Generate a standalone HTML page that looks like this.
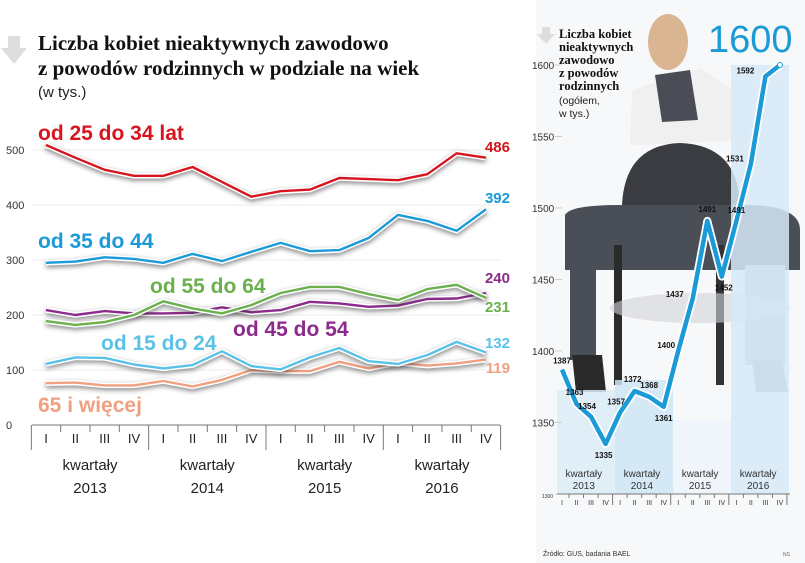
<!DOCTYPE html>
<html><head><meta charset="utf-8">
<style>
html,body{margin:0;padding:0;background:#fff;}
svg{display:block;font-family:"Liberation Sans",sans-serif;}
.t{font-family:"Liberation Serif",serif;font-weight:bold;font-size:21px;fill:#111;}
</style></head>
<body>
<svg id="chart" width="805" height="563" viewBox="0 0 805 563">
<defs>
<filter id="sh" x="-10%" y="-50%" width="120%" height="200%"><feGaussianBlur stdDeviation="2.5"/></filter>
</defs>
<g id="photo">
<rect x="536" y="0" width="269" height="563" fill="#f7f8f9"/>
<ellipse cx="668" cy="42" rx="20" ry="28" fill="#d9b592"/>
<path d="M632 90 L700 68 L742 95 L748 140 L630 145 Z" fill="#f0f0f0"/>
<path d="M655 75 L690 70 L698 120 L662 122 Z" fill="#4a4d55"/>
<path d="M622 205 Q625 145 680 143 Q738 145 740 205 Z" fill="#3a3c42"/>
<path d="M565 215 Q570 205 620 205 L745 205 Q800 205 800 230 L800 270 L565 270 Z" fill="#4a4e57"/>
<rect x="570" y="265" width="26" height="95" fill="#4a4e57"/>
<rect x="745" y="265" width="40" height="100" fill="#b3bac3"/>
<rect x="614" y="245" width="8" height="140" fill="#2a2a2a"/>
<rect x="716" y="245" width="8" height="140" fill="#333"/>
<path d="M572 355 L602 355 L606 392 L576 392 Z" fill="#2a2a2a"/>
<path d="M752 360 L782 360 L788 392 L756 392 Z" fill="#97a0aa"/>
<ellipse cx="700" cy="308" rx="90" ry="15" fill="#d2d4d7" opacity="0.6"/>
</g>
<g id="right"></g>
<g id="left"></g>
<g>
<path d="M8 36 L20 36 L20 48 L27 48 L14 64 L1 48 L8 48 Z" fill="#ddd"/>
<text class="t" x="38" y="50">Liczba kobiet nieaktywnych zawodowo</text>
<text class="t" x="38" y="75">z powodów rodzinnych w podziale na wiek</text>
<text x="38" y="97" font-size="15" fill="#222">(w tys.)</text>
</g>
<g>
<path d="M542 27 L550 27 L550 34 L555 34 L546 44 L537 34 L542 34 Z" fill="#ddd"/>
<text font-family="Liberation Serif,serif" font-weight="bold" font-size="12.5" fill="#111">
<tspan x="559" y="38">Liczba kobiet</tspan><tspan x="559" y="51">nieaktywnych</tspan><tspan x="559" y="64">zawodowo</tspan><tspan x="559" y="77">z powodów</tspan><tspan x="559" y="90">rodzinnych</tspan></text>
<text font-size="10.5" fill="#222"><tspan x="559" y="104">(ogółem,</tspan><tspan x="559" y="117">w tys.)</tspan></text>
<text x="708" y="52" font-size="38" fill="#1a9ad6">1600</text>
<text x="543" y="556" font-size="7" fill="#333">Źródło: GUS, badania BAEL</text>
<text x="783" y="556" font-size="5" fill="#666">NS</text>
</g>
</svg>
<script>
const NS='http://www.w3.org/2000/svg';
const quarters=['I','II','III','IV','I','II','III','IV','I','II','III','IV','I','II','III','IV'];
const years=['2013','2014','2015','2016'];
const s25=[509,486,464,453,453,469,442,415,425,428,449,447,445,456,494,486];
const s35=[295,297,305,302,295,311,298,315,331,316,318,340,382,371,353,392];
const s55=[189,182,187,200,225,212,203,218,240,251,251,238,227,247,255,231];
const s45=[209,200,207,203,203,204,214,205,209,224,221,215,217,229,230,240];
const s15=[111,123,122,110,103,109,134,107,101,123,140,116,111,127,151,132];
const s65=[76,77,72,72,80,70,82,100,98,98,115,103,113,108,112,119];
const leftTicks=[0,100,200,300,400,500];
const total=[1387,1363,1354,1335,1357,1372,1368,1361,1400,1437,1491,1452,1491,1531,1592,1600];
const rightTicks=[1300,1350,1400,1450,1500,1550,1600];

function el(tag,attrs,parent,txt){const e=document.createElementNS(NS,tag);for(const k in attrs)e.setAttribute(k,attrs[k]);if(txt!==undefined)e.textContent=txt;parent.appendChild(e);return e;}

// LEFT
const L=document.getElementById('left');
const lx=i=>46+i*29.33;
const ly=v=>425-v*0.55;
leftTicks.forEach(t=>{
  if(t>0){const g=el('line',{x1:32,x2:500,y1:ly(t),y2:ly(t),stroke:'#eee','stroke-width':1},L);
  
  }
  const tx=el('text',{x:6,y:ly(t)+4,'font-size':11,fill:'#333'},L,t);
  
  
});
const ax=el('line',{x1:32,x2:500,y1:425,y2:425,stroke:'#777','stroke-width':1},L);


for(let i=0;i<=16;i++){
  const x=lx(i)-14.66;const big=i%4===0;
  const tk=el('line',{x1:x,x2:x,y1:425,y2:big?450:432,stroke:'#777','stroke-width':1},L);
  
  
}
quarters.forEach((q,i)=>{
  const t=el('text',{x:lx(i),y:443,'font-size':13,fill:'#222','text-anchor':'middle'},L,q);
  
  
});
years.forEach((y,j)=>{
  const cx=(lx(j*4)+lx(j*4+3))/2;
  const a=el('text',{x:cx,y:470,'font-size':15,fill:'#222','text-anchor':'middle'},L,'kwartały');
  
  
  const b=el('text',{x:cx,y:493,'font-size':15,fill:'#222','text-anchor':'middle'},L,y);
  
  
});
function series(data,color,name){
  const d=data.map((v,i)=>(i?'L':'M')+lx(i).toFixed(1)+' '+ly(v).toFixed(1)).join(' ');
  const s=el('path',{d:d,fill:'none',stroke:'#333','stroke-width':6,opacity:0.55,filter:'url(#sh)',transform:'translate(0,2)'},L);
  
  
  const w=el('path',{d:d,fill:'none',stroke:'#fff','stroke-width':5.5,'stroke-linejoin':'round'},L);
  
  
  const p=el('path',{d:d,fill:'none',stroke:color,'stroke-width':2.4,'stroke-linejoin':'round'},L);
  
  
}
series(s65,'#f0a080','series-65plus');
series(s15,'#5bc2e7','series-15-24');
series(s45,'#8b2b8b','series-45-54');
series(s55,'#6ab04c','series-55-64');
series(s35,'#1a9ad6','series-35-44');
series(s25,'#d7151f','series-25-34');
const labs=[['od 25 do 34 lat','#d7151f',38,140,'label-25-34'],['od 35 do 44','#1a9ad6',38,248,'label-35-44'],['od 55 do 64','#6ab04c',150,293,'label-55-64'],['od 45 do 54','#8b2b8b',233,336,'label-45-54'],['od 15 do 24','#5bc2e7',101,350,'label-15-24'],['65 i więcej','#f0a080',38,412,'label-65plus']];
labs.forEach(a=>{
  const t=el('text',{x:a[2],y:a[3],'font-size':21,'font-weight':'bold',fill:a[1]},L,a[0]);
  
  
});
const ends=[[s25,'#d7151f',152],[s35,'#1a9ad6',203],[s45,'#8b2b8b',283],[s55,'#6ab04c',312],[s15,'#5bc2e7',348],[s65,'#f0a080',373]];
ends.forEach(a=>{
  const t=el('text',{x:510,y:a[2],'font-size':15,'font-weight':'bold',fill:a[1],'text-anchor':'end'},L,a[0][15]);
  
  
});

// RIGHT
const R=document.getElementById('right');
const rx=i=>562+i*14.53;
const ry=v=>65+(1600-v)*1.43;
const bands=[[557,390,'#dcecf8'],[615,380,'#cfe5f5'],[673,420,'#edf5fb'],[731,65,'#d6e9f7']];
bands.forEach((b,j)=>{
  const r=el('rect',{x:b[0],y:b[1],width:58,height:494-b[1],fill:b[2],opacity:0.85},R);
  
  
});
rightTicks.forEach(t=>{
  const tx=el('text',{x:t===1300?542:532,y:ry(t)+4,'font-size':t===1300?5:10,fill:'#333'},R,t);
  
  
  const g=el('line',{x1:555,x2:562,y1:ry(t),y2:ry(t),stroke:'#ccc'},R);
  
  
});
const rax=el('line',{x1:557,x2:790,y1:494,y2:494,stroke:'#777'},R);


quarters.forEach((q,i)=>{
  const t=el('text',{x:rx(i),y:505,'font-size':7,fill:'#333','text-anchor':'middle'},R,q);
  
  
  const k=el('line',{x1:rx(i)+7,x2:rx(i)+7,y1:494,y2:i%4===3?505:498,stroke:'#777'},R);
  
  
});
years.forEach((y,j)=>{
  const cx=(rx(j*4)+rx(j*4+3))/2;
  const a=el('text',{x:cx,y:477,'font-size':10,fill:'#333','text-anchor':'middle'},R,'kwartały');
  
  
  const b=el('text',{x:cx,y:489,'font-size':10,fill:'#333','text-anchor':'middle'},R,y);
  
  
});
const rd=total.map((v,i)=>(i?'L':'M')+rx(i).toFixed(1)+' '+ry(v).toFixed(1)).join(' ');
const rw=el('path',{d:rd,fill:'none',stroke:'#fff','stroke-width':8,'stroke-linejoin':'round'},R);


const rl=el('path',{d:rd,fill:'none',stroke:'#1a9ad6','stroke-width':4.5,'stroke-linejoin':'round'},R);


const dot=el('circle',{cx:rx(15),cy:ry(total[15]),r:2.5,fill:'#fff',stroke:'#1a9ad6','stroke-width':1},R);


const off=[[0,-6],[-2,-9],[-4,-8],[-2,14],[-4,-8],[-2,-9],[0,-9],[0,14],[-12,-3],[-18,-1],[0,-9],[2,14],[0,-8],[-16,-2],[-20,-3],[0,0]];
total.forEach((v,i)=>{
  if(i===15)return;
  const t=el('text',{x:rx(i)+off[i][0],y:ry(v)+off[i][1],'font-size':8,'font-weight':'bold',fill:'#111','text-anchor':'middle'},R,v);
  
  
});
</script>
</body></html>
